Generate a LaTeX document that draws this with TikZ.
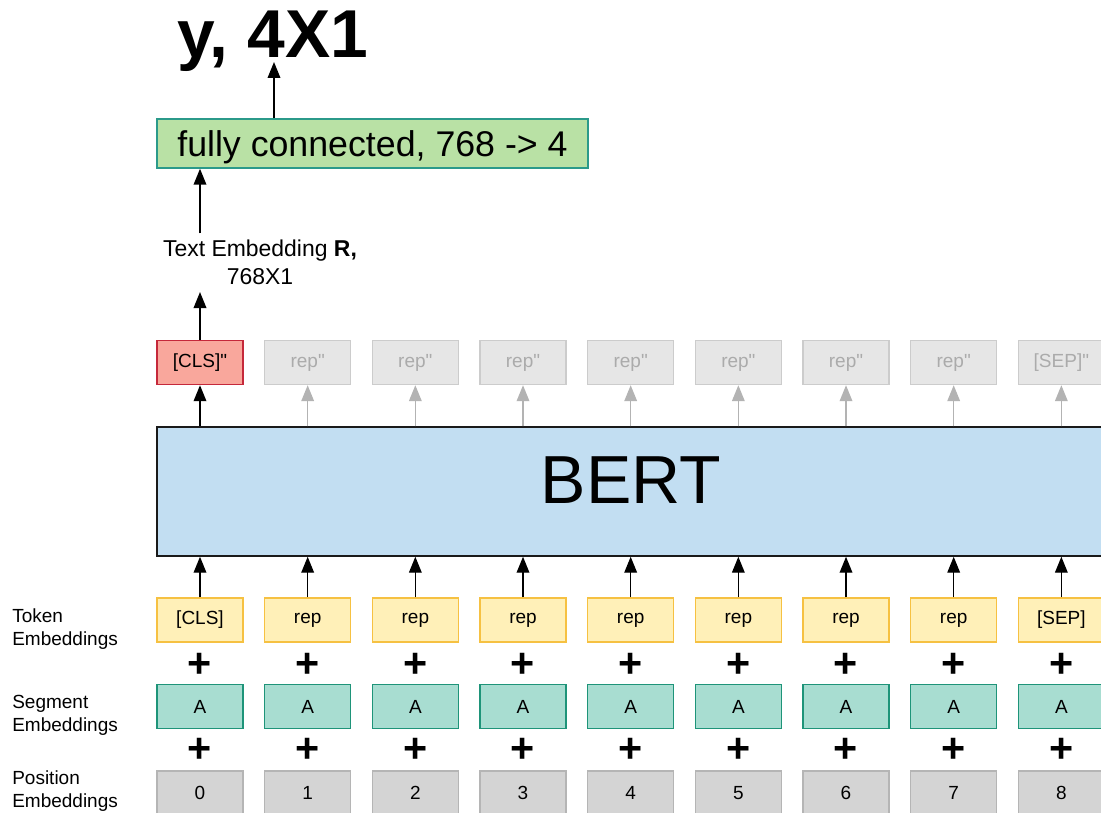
\documentclass[tikz,border=0pt]{standalone}
\usepackage{fontspec}
\setmainfont{Liberation Sans}[Ligatures=TeXOff]
\usetikzlibrary{arrows.meta}
\definecolor{tokfill}{HTML}{FFF0B8}
\definecolor{tokdraw}{HTML}{F6C142}
\definecolor{segfill}{HTML}{A8DDD1}
\definecolor{segdraw}{HTML}{1E9479}
\definecolor{posfill}{HTML}{D4D4D4}
\definecolor{posdraw}{HTML}{B5B5B5}
\definecolor{outfill}{HTML}{E6E6E6}
\definecolor{outdraw}{HTML}{CCCCCC}
\definecolor{outtext}{HTML}{ABABAB}
\definecolor{clsfill}{HTML}{F9A79C}
\definecolor{clsdraw}{HTML}{C5283A}
\definecolor{bertfill}{HTML}{C2DEF2}
\definecolor{bertdraw}{HTML}{1A1A1A}
\definecolor{fcfill}{HTML}{B9E1A5}
\definecolor{fcdraw}{HTML}{2B9A8A}
\definecolor{garrcol}{HTML}{B3B3B3}
\begin{document}
\begin{tikzpicture}[x=0.75pt,y=-0.75pt,
  box/.style={draw, line width=1.1pt, minimum width=64.5pt, minimum height=33pt, inner sep=0pt,
    font=\fontsize{14.25}{17}\selectfont},
  tokbox/.style={box, fill=tokfill, draw=tokdraw},
  segbox/.style={box, fill=segfill, draw=segdraw},
  posbox/.style={box, fill=posfill, draw=posdraw},
  outbox/.style={box, fill=outfill, draw=outdraw, text=outtext},
  clsbox/.style={box, fill=clsfill, draw=clsdraw},
  plussign/.style={font=\fontsize{31}{31}\selectfont\bfseries, inner sep=0pt},
  sidelab/.style={anchor=west, align=left, inner sep=0pt, font=\fontsize{14.25}{17.25}\selectfont},
  arr/.style={-{Triangle[width=9.5pt,length=12pt]}, line width=1.1pt},
  garr/.style={arr, draw=garrcol, fill=garrcol}
]
\useasboundingbox (0,0) rectangle (1101,813);
\clip (0,0) rectangle (1101,813);

% title and fully connected layer
\node[font=\fontsize{50.8}{60}\selectfont\bfseries, anchor=base west, inner sep=0pt] (title) at (177,58) {y, 4X1};
\node[draw=fcdraw, fill=fcfill, line width=1.1pt, minimum width=323.25pt, minimum height=36.75pt, inner sep=0pt,
  text height=25.5pt, text depth=5.6pt,
  font=\fontsize{26.8}{30}\selectfont] (fc) at (372.5,143.5) {fully connected, 768 -> 4};
\coordinate (tx) at (274,0);
\draw[arr, shorten >=3pt] (fc.north -| tx) -- (title.base -| tx);

% BERT
\node[draw=bertdraw, fill=bertfill, line width=1.1pt, minimum width=711pt, minimum height=96.75pt, inner sep=0pt,
  text depth=16.5pt, font=\fontsize{51}{55}\selectfont] (bert) at (631,491.5) {BERT};

% side labels
\node[sidelab] (tl) at (12,629) {Token\\Embeddings};
\node[sidelab] (sl) at (12,715) {Segment\\Embeddings};
\node[sidelab] (pl) at (12,791) {Position\\Embeddings};

% columns
\foreach \i/\t/\o in {0/{[CLS]}/{},1/rep/{rep"},2/rep/{rep"},3/rep/{rep"},4/rep/{rep"},5/rep/{rep"},6/rep/{rep"},7/rep/{rep"},8/{[SEP]}/{[SEP]"}}{
  \pgfmathsetmacro\cx{200+107.67*\i}
  \node[tokbox] (tok\i) at (\cx,620) {\t};
  \node[segbox] (seg\i) at (\cx,706.5) {A};
  \node[posbox] (pos\i) at (\cx,793) {\i};
  \node[plussign] (pa\i) at (\cx,665) {+};
  \node[plussign] (pb\i) at (\cx,750) {+};
  \draw[arr] (tok\i.north) -- (tok\i.north |- bert.south);
  \ifnum\i>0
    \node[outbox] (out\i) at (\cx,362.5) {\o};
    \draw[garr] (out\i.south |- bert.north) -- (out\i.south);
  \fi
}
\node[clsbox] (out0) at (200,362.5) {[CLS]"};
\draw[arr] (bert.north -| out0) -- (out0.south);

% text embedding
\node[font=\fontsize{17.2}{21}\selectfont, align=center, inner sep=5pt] (emb) at (260,262.7) {Text Embedding \textbf{R,}\\768X1};
\draw[arr] (out0.north) -- (out0.north |- emb.south);
\draw[arr] (out0.north |- emb.north) -- (out0.north |- fc.south);
\end{tikzpicture}
\end{document}
